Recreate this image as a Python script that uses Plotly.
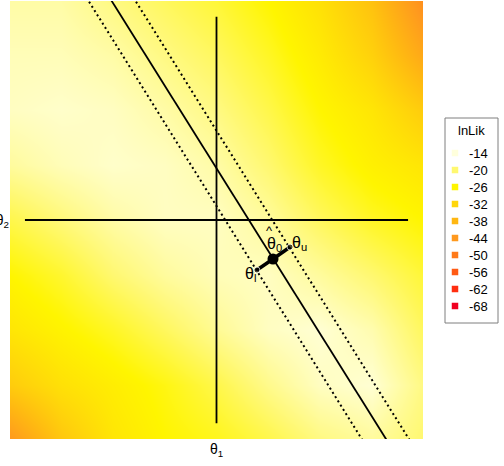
import plotly.graph_objects as go

# ---- surface estimate (lnLik) on a coarse grid ----
theta1_grid = [-1.08, -0.81, -0.54, -0.27, 0.0, 0.27, 0.54, 0.81, 1.08]
theta2_grid_top_down = [1.08, 0.81, 0.54, 0.27, 0.0, -0.27, -0.54, -0.81, -1.08]
lnlik_rows_top_down = [
    [-17, -17, -19, -21, -23, -26, -30, -36, -46],
    [-16, -16, -17, -19, -21, -24, -28, -33, -41],
    [-15.5, -15, -15.5, -17, -19, -22, -26, -29, -34],
    [-17.5, -16, -15, -15.5, -17, -20, -24, -27, -29],
    [-22, -19.5, -17, -15.5, -15.5, -17.5, -21, -24, -26],
    [-26, -23.5, -20, -17.5, -16, -15.5, -17.5, -20, -23],
    [-29, -26.5, -24, -21, -18, -15.5, -14.5, -16.5, -21],
    [-34, -30, -27.5, -25, -22, -18.5, -15.5, -14.5, -19],
    [-44, -35, -29, -26, -24.5, -22, -19, -17.5, -20],
]

# legend levels and colours
levels = [-14, -20, -26, -32, -38, -44, -50, -56, -62, -68]
level_colors = ["#FFFFDC", "#FFF870", "#FFF500", "#FFD60A", "#FFB712",
                "#FF991E", "#FF7A1A", "#FF5A14", "#FF2E10", "#F00020"]

# lines (theta1, theta2 endpoints)
solid_x = [-0.628, 0.966]
solid_y = [1.2, -1.2]
dash_lo_x = [-0.748, 0.839]
dash_lo_y = [1.2, -1.2]
dash_hi_x = [-0.503, 1.085]
dash_hi_y = [1.2, -1.2]
axis_v_x, axis_v_y = [0, 0], [-1, 1]
axis_h_x, axis_h_y = [-1, 1], [0, 0]

# estimate and bounds
theta0 = (0.295, -0.192)
theta_l = (0.211, -0.246)
theta_u = (0.384, -0.133)

zmin, zmax = min(levels), max(levels)
colorscale = sorted([[(v - zmin) / (zmax - zmin), c] for v, c in zip(levels, level_colors)])

fig = go.Figure()
fig.add_trace(go.Heatmap(
    x=theta1_grid, y=theta2_grid_top_down[::-1], z=lnlik_rows_top_down[::-1],
    zmin=zmin, zmax=zmax, colorscale=colorscale, zsmooth="best",
    showscale=False, hoverinfo="skip"))

black = "#000000"
fig.add_trace(go.Scatter(x=axis_v_x, y=axis_v_y, mode="lines", line=dict(color=black, width=1.8), showlegend=False))
fig.add_trace(go.Scatter(x=axis_h_x, y=axis_h_y, mode="lines", line=dict(color=black, width=1.8), showlegend=False))
fig.add_trace(go.Scatter(x=solid_x, y=solid_y, mode="lines", line=dict(color=black, width=1.8), showlegend=False))
for xs, ys in [(dash_lo_x, dash_lo_y), (dash_hi_x, dash_hi_y)]:
    fig.add_trace(go.Scatter(x=xs, y=ys, mode="lines",
                             line=dict(color=black, width=2, dash="2px,3px"), showlegend=False))

# interval segments
for p in (theta_l, theta_u):
    fig.add_trace(go.Scatter(x=[theta0[0], p[0]], y=[theta0[1], p[1]], mode="lines+markers",
                             line=dict(color=black, width=3.5),
                             marker=dict(size=[0, 6], color=black), showlegend=False))
fig.add_trace(go.Scatter(x=[theta0[0]], y=[theta0[1]], mode="markers",
                         marker=dict(size=11, color=black), showlegend=False))

lab_font = dict(family="Liberation Sans, Arial", size=16, color=black)
fig.add_annotation(x=theta0[0], y=theta0[1], text="θ<sub>0</sub>", showarrow=False,
                   xshift=1, yshift=15, font=lab_font)
fig.add_annotation(x=theta0[0], y=theta0[1], text="^", showarrow=False,
                   xshift=-4, yshift=29, font=dict(family="Liberation Sans, Arial", size=13, color=black))
fig.add_annotation(x=theta_u[0], y=theta_u[1], text="θ<sub>u</sub>", showarrow=False,
                   xshift=9, yshift=4, font=lab_font)
fig.add_annotation(x=theta_l[0], y=theta_l[1], text="θ<sub>l</sub>", showarrow=False,
                   xshift=-6, yshift=-5, font=lab_font)

# legend drawn on a small auxiliary axis
idx = list(range(len(levels)))
fig.add_trace(go.Scatter(
    x=[0] * len(levels), y=idx, mode="markers", xaxis="x2", yaxis="y2",
    marker=dict(symbol="square", size=6.5, color=level_colors),
    showlegend=False, hoverinfo="skip", cliponaxis=False))
leg_font = dict(family="Liberation Sans, Arial", size=13, color=black)
for i, v in zip(idx, levels):
    fig.add_annotation(xref="x2", yref="y2", x=12, y=i, text=str(v), showarrow=False,
                       xanchor="left", yanchor="middle", font=leg_font)

W, H = 504, 466
ml, mr, mt, mb = 10, 6, 1, 27
pw = W - ml - mr
ph = H - mt - mb
main_right = 423
xdom_main = [0, (main_right - ml) / pw]
leg_l, leg_r, leg_t, leg_b = 445, 498, 118, 323
xdom_leg = [(leg_l - ml) / pw, (leg_r - ml) / pw]
ydom_leg = [(H - mb - leg_b) / ph, (H - mb - leg_t) / ph]

hidden = dict(showticklabels=False, showgrid=False, zeroline=False, showline=False,
              ticks="", automargin=False, tickmode="array", tickvals=[], ticktext=[])
tick_font = dict(family="Liberation Sans, Arial", size=14, color=black)
fig.update_layout(
    width=W, height=H, margin=dict(l=ml, r=mr, t=mt, b=mb),
    paper_bgcolor="white", plot_bgcolor="white",
    xaxis=dict(domain=xdom_main, range=[-1.078, 1.078], showgrid=False, zeroline=False,
               tickvals=[0], ticktext=["θ<sub>1</sub>"], ticks="", tickfont=tick_font,
               showline=False, automargin=False),
    yaxis=dict(range=[-1.078, 1.078], showgrid=False, zeroline=False,
               tickvals=[0], ticktext=["θ<sub>2</sub>"], ticks="", tickfont=tick_font,
               showline=False, automargin=False),
    xaxis2=dict(domain=xdom_leg, range=[-10, 43], anchor="y2", **hidden),
    yaxis2=dict(domain=ydom_leg, range=[10.0, -2.06], anchor="x2", **hidden),
    showlegend=False,
)
fig.add_shape(type="rect", xref="x2 domain", yref="y2 domain", x0=0, x1=1, y0=0, y1=1,
              line=dict(color="#7f7f7f", width=1))
fig.add_annotation(xref="x2 domain", yref="y2", x=0.5, y=-1.3, text="lnLik", showarrow=False,
                   font=dict(family="Liberation Sans, Arial", size=13, color=black))

fig.write_html("out.html")
